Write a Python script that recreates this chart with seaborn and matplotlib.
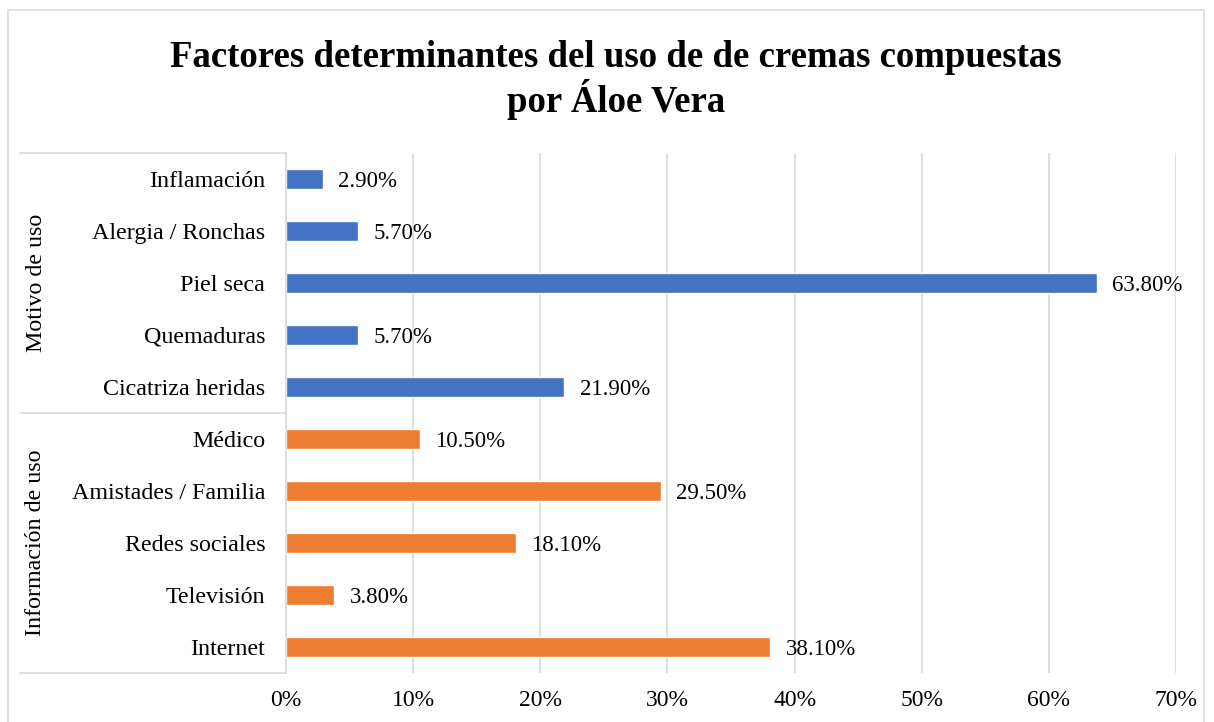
# %% libraries
import matplotlib.pyplot as plt
import matplotlib.transforms as mtransforms
from matplotlib.patches import Rectangle
import seaborn as sns
import pandas as pd

# %% data
categorias = ['Inflamación', 'Alergia / Ronchas', 'Piel seca', 'Quemaduras',
              'Cicatriza heridas', 'Médico', 'Amistades / Familia',
              'Redes sociales', 'Televisión', 'Internet']
valores = [2.9, 5.7, 63.8, 5.7, 21.9, 10.5, 29.5, 18.1, 3.8, 38.1]
grupos = ['Motivo de uso'] * 5 + ['Información de uso'] * 5
grupo_nombres = ['Motivo de uso', 'Información de uso']
colores = ['#4472C4', '#ED7D31']
xticks = [0, 10, 20, 30, 40, 50, 60, 70]

df = pd.DataFrame({'cat': categorias, 'val': valores, 'grupo': grupos})

# %% style
sns.set_style('white')
plt.rcParams['font.family'] = ['Liberation Serif', 'DejaVu Serif']
plt.rcParams['font.size'] = 17
plt.rcParams['text.color'] = 'black'
plt.rcParams['xtick.color'] = 'black'
plt.rcParams['ytick.color'] = 'black'

# %% figure
fig = plt.figure(figsize=(12.14, 7.22), dpi=100)
ax = fig.add_axes([286 / 1214, 1 - 673 / 722, 890 / 1214, 520 / 722])

sns.barplot(data=df, y='cat', x='val', hue='grupo', order=categorias,
            hue_order=grupo_nombres, palette=colores, dodge=False,
            width=0.38, saturation=1, legend=False, ax=ax)

# data labels
for cont in ax.containers:
    labs = ax.bar_label(cont, fmt='{:.2f}%', padding=11, fontsize=16.5)
    for t in labs:
        t.set_va('center_baseline')

# axes
ax.set_xlim(0, 70)
ax.set_ylim(9.5, -0.5)
ax.set_xticks(xticks)
ax.set_xticklabels([f'{t}%' for t in xticks], fontsize=17)
ax.tick_params(axis='x', length=0, pad=12)
ax.tick_params(axis='y', length=0, pad=15, labelsize=17.3)
ax.set_xlabel('')
ax.set_ylabel('')
ax.grid(axis='x', color='#D9D9D9', linewidth=1.2)
ax.set_axisbelow(True)
for s in ['top', 'right', 'bottom']:
    ax.spines[s].set_visible(False)
ax.spines['left'].set_color('#D9D9D9')
ax.spines['left'].set_linewidth(1.2)

# group separators and labels
trans = mtransforms.blended_transform_factory(ax.transAxes, ax.transData)
x0 = (20 - 286) / 890
for yb in [-0.5, 4.5, 9.5]:
    ax.plot([x0, 0], [yb, yb], transform=trans, color='#D9D9D9',
            linewidth=1.2, clip_on=False)
ftrans = mtransforms.blended_transform_factory(fig.transFigure, ax.transData)
for g, yc in zip(grupo_nombres, [2, 7]):
    fig.text(36 / 1214, yc, g, transform=ftrans, rotation=90,
             ha='center', va='center', fontsize=17.3)

# title
fig.text(616 / 1214, 1 - 80 / 722,
         'Factores determinantes del uso de de cremas compuestas\npor Áloe Vera',
         ha='center', va='center', fontsize=26.5, fontweight='bold',
         linespacing=1.1)

# outer border
fig.patches.append(Rectangle((8 / 1214, -0.02), 1196 / 1214, 1 - 10 / 722 + 0.02,
                             transform=fig.transFigure, fill=False,
                             edgecolor='#D9D9D9', linewidth=1.2))

# save plot
plt.savefig('out.png', dpi=100)
